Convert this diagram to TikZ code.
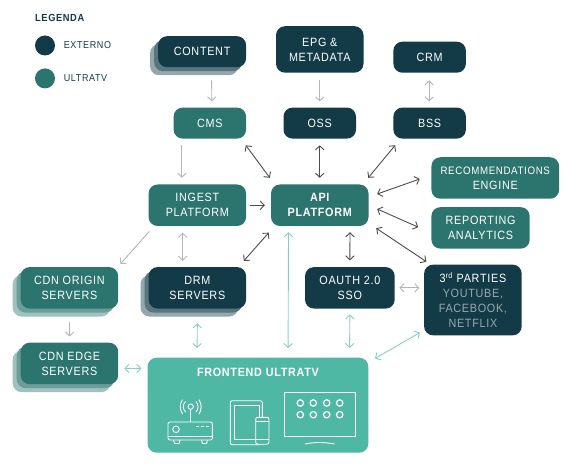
\documentclass[tikz,border=0pt]{standalone}
\usepackage{fontspec}
\setmainfont[LetterSpace=6,FakeStretch=0.9]{Liberation Sans}
\usepackage{xcolor}
\usetikzlibrary{arrows.meta,positioning,shadows}
\definecolor{ink}{HTML}{123B47}
\definecolor{ultra}{HTML}{2C756F}
\definecolor{front}{HTML}{4FB8A5}
\definecolor{light}{HTML}{86D0C0}
\definecolor{gry}{HTML}{B5B5B5}
\definecolor{dim}{HTML}{4D4D4D}
\definecolor{soft}{HTML}{9AA8AC}

\begin{document}
\begin{tikzpicture}[x=1pt,y=1pt,font=\fontsize{12}{15}\selectfont,
 box/.style={rounded corners=9pt,align=center,text=white,inner sep=0pt},
 small/.style={minimum width=72.5pt,minimum height=31pt},
 wide/.style={minimum width=97.5pt,minimum height=41.5pt},
 ext/.style={box,fill=ink},
 ult/.style={box,fill=ultra},
 stack/.style={general shadow={fill=#1!45,shadow xshift=-8pt,shadow yshift=-8pt},
  general shadow={fill=#1!70!white,shadow xshift=-4pt,shadow yshift=-4pt}},
 dot/.style={circle,inner sep=0pt,minimum size=20pt},
 leg/.style={font=\fontsize{10}{12}\selectfont,text=ink,inner sep=0pt},
 barb/.tip={Straight Barb[length=4pt,width=8.5pt]},
 grey/.style={-barb,draw=gry,line width=0.9pt},
 dark/.style={barb-barb,draw=dim,line width=0.9pt},
 pale/.style={barb-barb,draw=light,line width=0.9pt},
 icon/.style={draw=white,line width=0.9pt}]
\useasboundingbox (0,0) rectangle (573,-465);
% legend
\node[leg,anchor=west,font=\fontsize{10.3}{12}\bfseries] (legenda) at (35,-18) {LEGENDA};
\node[dot,fill=ink] (dotext) at (45,-45.5) {};
\node[dot,fill=ultra,below=12.5pt of dotext] (dotult) {};
\node[leg,right=8.5pt of dotext] (lext) {EXTERNO};
\node[leg,right=8.5pt of dotult] (lult) {ULTRATV};
% boxes
\node[ult,wide,font=\fontsize{12}{15}\bfseries] (api) at (319.75,-205.25) {API\\PLATFORM};
\node[ult,wide,left=24.5pt of api] (ingest) {INGEST\\PLATFORM};
\node[ext,small,above=45.5pt of api] (oss) {OSS};
\node[ult,small,above=45.5pt of ingest,xshift=12.5pt] (cms) {CMS};
\node[ext,small,right=37pt of oss] (bss) {BSS};
\node[ext,small,above=34.5pt of bss] (crm) {CRM};
\node[ext,above=34.5pt of oss,minimum width=87.5pt,minimum height=46.5pt] (epg) {EPG \&\\METADATA};
\node[ext,stack=ink,above=40pt of cms,xshift=-7.75pt,minimum width=88pt,minimum height=31pt] (content) {CONTENT};
\node[ult,right=62.5pt of api,yshift=27.25pt,minimum width=127.7pt,minimum height=41.5pt] (rec) {{\fontsize{10.8}{15}\selectfont RECOMMENDATIONS}\\ENGINE};
\node[ult,below=8pt of rec,xshift=-14.7pt,minimum width=98.3pt,minimum height=41.5pt] (rep) {REPORTING\\ANALYTICS};
\node[ext,below=40.7pt of api,xshift=30.1pt,minimum width=89.7pt,minimum height=41.5pt] (oauth) {OAUTH 2.0\\SSO};
\node[ext,right=29pt of oauth,yshift=-12.15pt,minimum width=97.6pt,minimum height=70.7pt] (parties)
 {3\textsuperscript{rd} PARTIES\\\textcolor{soft}{YOUTUBE,}\\\textcolor{soft}{FACEBOOK,}\\\textcolor{soft}{NETFLIX}};
\node[ext,wide,stack=ink,below=40.7pt of ingest] (drm) {DRM\\SERVERS};
\node[ult,wide,stack=ultra,left=30pt of drm] (origin) {CDN ORIGIN\\SERVERS};
\node[ult,wide,stack=ultra,below=33.7pt of origin] (edge) {CDN EDGE\\SERVERS};
\node[box,fill=front,below=48.7pt of drm,xshift=60.6pt,minimum width=220.7pt,minimum height=95pt] (frontend) {};
\node[text=white,inner sep=0pt,font=\fontsize{12}{15}\bfseries,below=10pt of frontend.north] (ftitle) {FRONTEND ULTRATV};
% connectors
\draw[grey] ([xshift=9.5pt,yshift=-13pt]content.south) -- ([xshift=2pt,yshift=6pt]cms.north);
\draw[grey] ([xshift=-28pt,yshift=-6pt]cms.south) -- ([xshift=-15.5pt,yshift=6.5pt]ingest.north);
\draw[dark] ([xshift=-0.5pt,yshift=-6.5pt]cms.south east) -- ([xshift=-1pt,yshift=6.5pt]api.north west);
\draw[-barb,draw=dim,line width=0.9pt] ([xshift=3.5pt]ingest.east) -- ([xshift=-6pt]api.west);
\draw[grey] ([yshift=-7.5pt]epg.south) -- ([yshift=6pt]oss.north);
\draw[dark] ([yshift=-6.5pt]oss.south) -- ([yshift=6.5pt]api.north);
\draw[grey,barb-barb] ([xshift=-0.5pt,yshift=-7.5pt]crm.south) -- ([xshift=-0.5pt,yshift=6pt]bss.north);
\draw[dark] ([xshift=2pt,yshift=-6.5pt]bss.south west) -- ([xshift=-0.5pt,yshift=6.5pt]api.north east);
\draw[dark] ([xshift=8.5pt,yshift=11.25pt]api.east) -- ([xshift=-11.5pt,yshift=-1pt]rec.west);
\draw[dark] ([xshift=8.5pt,yshift=-3.75pt]api.east) -- ([xshift=-13pt,yshift=0.75pt]rep.west);
\draw[dark] ([xshift=7.5pt,yshift=-2pt]api.south east) -- ([xshift=2.5pt,yshift=2.75pt]parties.north west);
\draw[dark] ([xshift=30.25pt,yshift=-6pt]api.south) -- ([yshift=6.5pt]oauth.north);
\draw[grey] ([xshift=1pt,yshift=-5pt]ingest.south west) -- ([xshift=2pt,yshift=3pt]origin.north east);
\draw[grey,barb-barb] ([xshift=-14.75pt,yshift=-6.5pt]ingest.south) -- ([xshift=-14.75pt,yshift=6pt]drm.north);
\draw[dark] ([xshift=-51pt,yshift=-6.5pt]api.south) -- ([xshift=-2.5pt,yshift=6pt]drm.north east);
\draw[pale] ([xshift=-31.25pt,yshift=-6pt]api.south) -- ([xshift=30.15pt,yshift=9.5pt]frontend.north);
\draw[pale] ([yshift=-14.5pt]drm.south) -- ([xshift=-60.85pt,yshift=9.5pt]frontend.north);
\draw[pale] ([yshift=-5.5pt]oauth.south) -- ([xshift=91.65pt,yshift=9.5pt]frontend.north);
\draw[grey,barb-barb] ([xshift=4.5pt]oauth.east) -- ([xshift=-4.5pt,yshift=12.15pt]parties.west);
\draw[pale] ([xshift=-4pt,yshift=3pt]parties.south west) -- ([xshift=6.5pt,yshift=-1pt]frontend.north east);
\draw[grey] ([xshift=0.25pt,yshift=-13.2pt]origin.south) -- ([xshift=0.25pt,yshift=6pt]edge.north);
\draw[pale] ([xshift=6pt,yshift=-5pt]edge.east) -- ([xshift=-6pt,yshift=-11pt]frontend.north west);
% router
\draw[icon,rounded corners=2pt] (168,-422) rectangle (212.3,-440);
\draw[icon] (168,-436) -- (212.3,-436);
\draw[icon] (190.7,-422) -- (190.7,-409.4);
\draw[icon] (190.7,-406.7) circle (2.7);
\draw[icon] (176,-429.3) circle (3.3);
\draw[icon,dash pattern=on 3pt off 2pt] (196,-426.7) -- (209,-426.7);
\draw[icon] (173.5,-440) -- (174.5,-443.5) -- (179,-443.5) -- (180,-440);
\draw[icon] (201.5,-440) -- (202.5,-443.5) -- (206.5,-443.5) -- (207.5,-440);
\draw[icon] (185.5,-412) arc (225:135:7.4);
\draw[icon] (195.9,-412) arc (-45:45:7.4);
\draw[icon] (182.5,-414) arc (215:145:12.5);
\draw[icon] (198.9,-414) arc (-35:35:12.5);
% tablet and phone
\draw[icon,rounded corners=2pt] (230.3,-400.7) rectangle (262.3,-444.7);
\draw[icon] (234,-405) rectangle (259,-439);
\draw[icon,fill=front,rounded corners=2pt] (255.7,-417.3) rectangle (269,-444.2);
\draw[icon] (255.7,-421.5) -- (269,-421.5);
\draw[icon] (255.7,-439) -- (269,-439);
% tv
\draw[icon] (284.5,-392) rectangle (355.5,-436.3);
\foreach \px in {300.3,313.3,326.7,339.7}
 \foreach \py in {-403,-414.7}
  \draw[icon,line width=1.2pt] (\px,\py) circle (3.2);
\draw[icon] (305,-444) .. controls (315,-442) and (324,-442) .. (334.5,-444);
\end{tikzpicture}
\end{document}
